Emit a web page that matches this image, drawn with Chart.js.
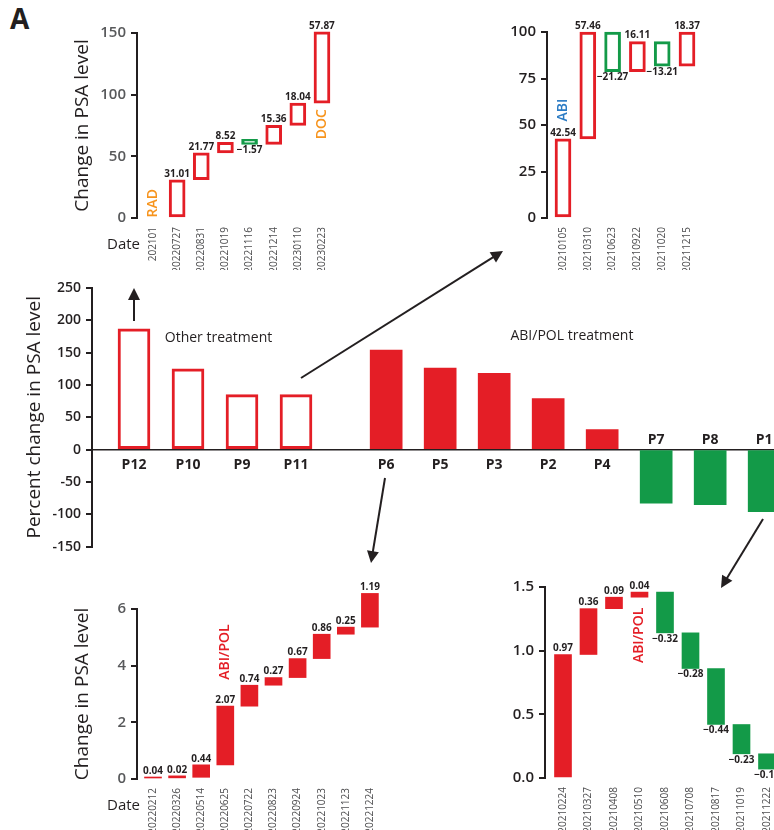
<!DOCTYPE html>
<html>
<head>
<meta charset="utf-8">
<script src="https://cdn.jsdelivr.net/npm/chart.js@4.4.1/dist/chart.umd.min.js"></script>
<style>
  html, body { margin: 0; padding: 0; width: 774px; height: 830px; overflow: hidden; background: #fff; }
  body { position: relative; }
  canvas { position: absolute; display: block; }
  #panel { position: absolute; left: 10px; top: 4px; font: bold 28px 'Open Sans', sans-serif; line-height: 1; color: #231f20; }
</style>
</head>
<body>
<div id="panel">A</div>
<canvas id="p12" width="360" height="270" style="left:0;top:0"></canvas>
<canvas id="p11" width="284" height="270" style="left:490px;top:0"></canvas>
<canvas id="overview" width="820" height="290" style="left:0;top:270px"></canvas>
<canvas id="p6" width="400" height="260" style="left:0;top:570px"></canvas>
<canvas id="p1" width="340" height="260" style="left:480px;top:570px"></canvas>
<canvas id="links" width="774" height="830" style="left:0;top:0;pointer-events:none"></canvas>

<script>
// ---- data ---------------------------------------------------------------
// Best percent change in PSA level per patient
const patients = ['P12', 'P10', 'P9', 'P11', 'P6', 'P5', 'P3', 'P2', 'P4', 'P7', 'P8', 'P1'];
const percentChange = [187, 125, 85, 85, 154, 126, 118, 79, 31, -83, -85, -96];
const treatment = ['Other', 'Other', 'Other', 'Other', 'ABI/POL', 'ABI/POL', 'ABI/POL', 'ABI/POL', 'ABI/POL', 'ABI/POL', 'ABI/POL', 'ABI/POL'];
const percentTicks = [-150, -100, -50, 0, 50, 100, 150, 200, 250];

// P12: PSA change between visits (other treatment)
const p12Dates = ['202101', '20220727', '20220831', '20221019', '20221116', '20221214', '20230110', '20230223'];
const p12Change = [null, 31.01, 21.77, 8.52, -1.57, 15.36, 18.04, 57.87];

// P11: PSA change between visits
const p11Dates = ['20210105', '20210310', '20210623', '20210922', '20211020', '20211215'];
const p11Change = [42.54, 57.46, -21.27, 16.11, -13.21, 18.37];

// P6: PSA change between visits (ABI/POL)
const p6Dates = ['20220212', '20220326', '20220514', '20220625', '20220722', '20220823', '20220924', '20221023', '20221123', '20221224'];
const p6Change = [0.04, 0.02, 0.44, 2.07, 0.74, 0.27, 0.67, 0.86, 0.25, 1.19];

// P1: PSA change between visits (ABI/POL)
const p1Dates = ['20210224', '20210327', '20210408', '20210510', '20210608', '20210708', '20210817', '20211019', '20211222'];
const p1Change = [0.97, 0.36, 0.09, 0.04, -0.32, -0.28, -0.44, -0.23, -0.12];

// ---- style --------------------------------------------------------------
const FONT = "'Open Sans', 'Noto Sans', sans-serif";
const NARROW = "'Liberation Sans Narrow', 'Open Sans', sans-serif";
const RED = '#e41e26', GREEN = '#139a48', INK = '#231f20', GREY = '#58595b';
const ORANGE = '#f7941d', BLUE = '#2b7bc4';

Chart.defaults.font.family = FONT;
Chart.defaults.animation = false;

const minus = s => s.replace('-', '\u2212');

// running PSA level -> floating bars [start, end]
function steps(changes) {
  let level = 0;
  const out = [];
  changes.forEach((d, i) => {
    if (d === null) return;
    const start = level;
    level += d;
    out.push({ x: i, y: [start, level], d: d });
  });
  return out;
}

function yAxisOpts(c) {
  return {
    min: c.yMin, max: c.yMax,
    afterFit: s => { s.width = c.axisX - c.left; },
    afterBuildTicks: s => { s.ticks = c.yTicks.map(v => ({ value: v })); },
    border: { display: true, color: INK, width: 2 },
    grid: { display: true, drawOnChartArea: false, drawTicks: true, tickLength: 6, color: INK, lineWidth: 2 },
    ticks: {
      color: c.tickColor, padding: 5,
      font: { size: c.tickSize || 14, weight: '600' },
      callback: c.tickFmt || (v => String(v))
    },
    title: c.title ? {
      display: true, text: c.title, color: INK,
      font: { size: 19, weight: 'normal' },
      padding: { top: c.titleX - c.left - 11.4, bottom: 0 }
    } : { display: false }
  };
}

// ---- waterfall panels -----------------------------------------------------
function waterfall(id, c) {
  const el = document.getElementById(id);
  const points = steps(c.changes);
  const notePlugin = {
    id: 'notes',
    afterDatasetsDraw(chart) {
      const ctx = chart.ctx, xs = chart.scales.x, ys = chart.scales.y;
      const meta = chart.getDatasetMeta(0);
      ctx.save();
      // step values above rises, below falls
      ctx.font = `bold 10px ${FONT}`;
      ctx.fillStyle = INK;
      ctx.textAlign = 'center';
      meta.data.forEach((bar, i) => {
        const d = chart.data.datasets[0].data[i].d;
        const top = Math.min(bar.y, bar.base), bottom = Math.max(bar.y, bar.base);
        const txt = minus(d.toFixed(2));
        if (d >= 0) { ctx.textBaseline = 'bottom'; ctx.fillText(txt, bar.x, top - 1); }
        else { ctx.textBaseline = 'top'; ctx.fillText(txt, bar.x, bottom + 1); }
      });
      // treatment markers
      (c.notes || []).forEach(n => {
        ctx.save();
        ctx.translate(xs.getPixelForValue(n.at), ys.getPixelForValue(n.level));
        ctx.rotate(-Math.PI / 2);
        ctx.font = `600 14px ${FONT}`;
        ctx.fillStyle = n.color;
        ctx.textAlign = 'center';
        ctx.textBaseline = 'middle';
        ctx.fillText(n.text, 0, 0);
        ctx.restore();
      });
      if (c.dateLabel) {
        ctx.font = `15px ${FONT}`;
        ctx.fillStyle = INK;
        ctx.textAlign = 'right';
        ctx.textBaseline = 'middle';
        ctx.fillText('Date', chart.chartArea.left + 3, chart.chartArea.bottom + 27);
      }
      ctx.restore();
    }
  };
  const h = el.height, w = el.width;
  return new Chart(el, {
    type: 'bar',
    data: {
      datasets: [{
        data: points,
        clip: false,
        barThickness: c.barW,
        minBarLength: c.minBar || 0,
        borderSkipped: false,
        backgroundColor: ctx => c.hollow ? '#ffffff' : (ctx.raw.d < 0 ? GREEN : RED),
        borderColor: ctx => ctx.raw.d < 0 ? GREEN : RED,
        borderWidth: c.hollow ? 3 : 0
      }]
    },
    options: {
      responsive: false,
      devicePixelRatio: 1,
      layout: { padding: { top: c.yTop - c.top, left: 0, right: 0, bottom: 0 } },
      plugins: { legend: { display: false }, tooltip: { enabled: false } },
      scales: {
        x: {
          type: 'linear',
          offset: false,
          min: -(c.first - c.axisX) / c.spacing,
          max: (c.left + w - c.first) / c.spacing,
          afterFit: s => { s.height = c.top + h - c.yBottom; },
          afterBuildTicks: s => { s.ticks = c.dates.map((_, i) => ({ value: i })); },
          border: { display: false },
          grid: { display: false, drawTicks: false, offset: false },
          ticks: {
            autoSkip: false, minRotation: 90, maxRotation: 90, padding: 9,
            color: '#4d4d4f', font: { family: NARROW, size: 10 },
            callback: v => c.dates[v]
          }
        },
        y: yAxisOpts(c)
      }
    },
    plugins: [notePlugin]
  });
}

waterfall('p12', {
  dates: p12Dates, changes: p12Change, hollow: true, barW: 16, minBar: 5,
  left: 0, top: 0, axisX: 137, yTop: 33, yBottom: 218, first: 153, spacing: 24.14,
  yMin: 0, yMax: 150, yTicks: [0, 50, 100, 150], tickColor: GREY, tickSize: 15,
  title: 'Change in PSA level', titleX: 83, dateLabel: true,
  notes: [{ at: 0, level: 12, text: 'RAD', color: ORANGE }, { at: 7, level: 76, text: 'DOC', color: ORANGE }]
});

waterfall('p11', {
  dates: p11Dates, changes: p11Change, hollow: true, barW: 16,
  left: 490, top: 0, axisX: 547, yTop: 32, yBottom: 218, first: 563, spacing: 24.8,
  yMin: 0, yMax: 100, yTicks: [0, 25, 50, 75, 100], tickColor: INK, tickSize: 15,
  notes: [{ at: 0, level: 58, text: 'ABI', color: BLUE }]
});

waterfall('p6', {
  dates: p6Dates, changes: p6Change, hollow: false, barW: 17, minBar: 2,
  left: 0, top: 570, axisX: 137, yTop: 609, yBottom: 779, first: 153, spacing: 24.1,
  yMin: 0, yMax: 6, yTicks: [0, 2, 4, 6], tickColor: GREY, tickSize: 15,
  title: 'Change in PSA level', titleX: 83, dateLabel: true,
  notes: [{ at: 3, level: 4.48, text: 'ABI/POL', color: RED }]
});

waterfall('p1', {
  dates: p1Dates, changes: p1Change, hollow: false, barW: 17,
  left: 480, top: 570, axisX: 545, yTop: 587, yBottom: 778, first: 563, spacing: 25.5,
  yMin: 0, yMax: 1.5, yTicks: [0, 0.5, 1, 1.5], tickColor: INK, tickSize: 15,
  tickFmt: v => v.toFixed(1),
  notes: [{ at: 3, level: 1.12, text: 'ABI/POL', color: RED }]
});

// ---- overview of all patients ---------------------------------------------
(function () {
  const el = document.getElementById('overview');
  const c = {
    left: 0, top: 270, axisX: 92, yTop: 288, yBottom: 547, first: 134, spacing: 54,
    yMin: -150, yMax: 250, yTicks: percentTicks, tickColor: INK, tickSize: 14,
    title: 'Percent change in PSA level', titleX: 35
  };
  // the two treatment groups are set apart by an extra gap
  const slot = i => (treatment[i] === 'Other' ? i : i + 0.67);
  const points = patients.map((p, i) => ({ x: slot(i), y: percentChange[i] }));
  const hollow = i => treatment[i] === 'Other';
  const overviewPlugin = {
    id: 'overviewText',
    beforeDatasetsDraw(chart) {
      const ctx = chart.ctx, ys = chart.scales.y, a = chart.chartArea;
      const y0 = ys.getPixelForValue(0);
      ctx.save();
      ctx.strokeStyle = INK;
      ctx.lineWidth = 1.5;
      ctx.beginPath();
      ctx.moveTo(a.left, y0);
      ctx.lineTo(a.right, y0);
      ctx.stroke();
      ctx.restore();
    },
    afterDatasetsDraw(chart) {
      const ctx = chart.ctx, xs = chart.scales.x, ys = chart.scales.y;
      const y0 = ys.getPixelForValue(0);
      ctx.save();
      ctx.fillStyle = INK;
      ctx.font = `bold 14px ${FONT}`;
      ctx.textAlign = 'center';
      ctx.textBaseline = 'middle';
      patients.forEach((p, i) => {
        const x = xs.getPixelForValue(slot(i));
        ctx.fillText(p, x, percentChange[i] >= 0 ? y0 + 15 : y0 - 10);
      });
      ctx.font = `14px ${FONT}`;
      ctx.textAlign = 'left';
      ctx.fillText('Other treatment', xs.getPixelForValue(0.57), ys.getPixelForValue(173));
      ctx.textAlign = 'center';
      ctx.fillText('ABI/POL treatment', xs.getPixelForValue(8.11), ys.getPixelForValue(176));
      ctx.restore();
    }
  };
  new Chart(el, {
    type: 'bar',
    data: {
      datasets: [{
        data: points,
        barThickness: 32,
        borderSkipped: false,
        backgroundColor: ctx => hollow(ctx.dataIndex) ? '#ffffff' : (ctx.raw.y < 0 ? GREEN : RED),
        borderColor: RED,
        borderWidth: ctx => hollow(ctx.dataIndex) ? 3 : 0
      }]
    },
    options: {
      responsive: false,
      devicePixelRatio: 1,
      layout: { padding: { top: c.yTop - c.top, bottom: c.top + el.height - c.yBottom, left: 0, right: 0 } },
      plugins: { legend: { display: false }, tooltip: { enabled: false } },
      scales: {
        x: {
          type: 'linear', display: false, offset: false,
          grid: { offset: false },
          min: -(c.first - c.axisX) / c.spacing,
          max: (c.left + el.width - c.first) / c.spacing
        },
        y: yAxisOpts(c)
      }
    },
    plugins: [overviewPlugin]
  });
})();

// ---- connectors between the overview and the detail panels ---------------
(function () {
  const ctx = document.getElementById('links').getContext('2d');
  ctx.strokeStyle = INK;
  ctx.fillStyle = INK;
  ctx.lineWidth = 2;
  function arrow(x1, y1, x2, y2) {
    const a = Math.atan2(y2 - y1, x2 - x1), L = 12, W = 6;
    ctx.beginPath();
    ctx.moveTo(x1, y1);
    ctx.lineTo(x2 - L * 0.8 * Math.cos(a), y2 - L * 0.8 * Math.sin(a));
    ctx.stroke();
    ctx.beginPath();
    ctx.moveTo(x2, y2);
    ctx.lineTo(x2 - L * Math.cos(a) + W * Math.sin(a), y2 - L * Math.sin(a) - W * Math.cos(a));
    ctx.lineTo(x2 - L * Math.cos(a) - W * Math.sin(a), y2 - L * Math.sin(a) + W * Math.cos(a));
    ctx.closePath();
    ctx.fill();
  }
  arrow(134, 321, 134, 288);
  arrow(301, 378, 503, 251);
  arrow(385, 478, 371, 563);
  arrow(763, 519, 721, 588);
})();
</script>
</body>
</html>
